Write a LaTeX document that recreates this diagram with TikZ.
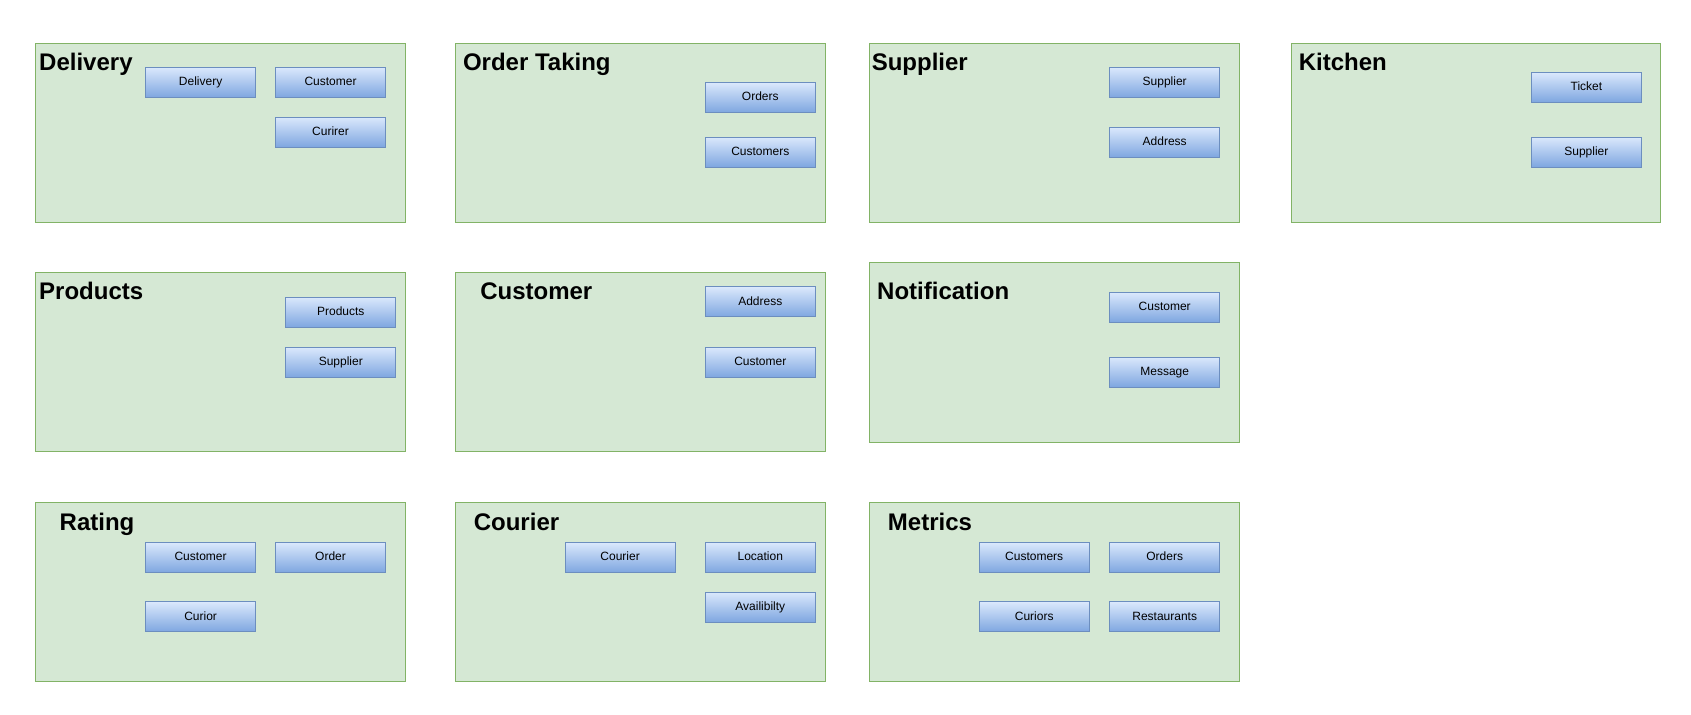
\documentclass[tikz,border=0pt]{standalone}
\usepackage{fontspec}
\setmainfont{Liberation Sans}
\usetikzlibrary{positioning}

\definecolor{ctxfill}{HTML}{D5E8D4}
\definecolor{ctxline}{HTML}{82B366}
\definecolor{entline}{HTML}{6C8EBF}
\definecolor{enttop}{HTML}{DAE8FC}
\definecolor{entbot}{HTML}{7EA6E0}

\tikzset{
  ctx/.style={draw=ctxline, fill=ctxfill, line width=0.5pt},
  ctxtitle/.style={anchor=base west, inner sep=0pt, font=\fontsize{12}{14}\selectfont\bfseries},
  entity/.style={draw=entline, line width=0.5pt, top color=enttop, bottom color=entbot,
    minimum width=55pt, minimum height=15pt, inner sep=0pt, text height=4.4pt, text depth=1.2pt,
    font=\fontsize{6}{7}\selectfont}
}

\begin{document}
\begin{tikzpicture}[x=0.5392pt, y=-0.5392pt]
    \useasboundingbox (0,0) rectangle (1568,663);

    % bounded contexts, first row
    \draw[ctx] (33,40) rectangle (376,206);
    \draw[ctx] (422,40) rectangle (765,206);
    \draw[ctx] (806,40) rectangle (1149,206);
    \draw[ctx] (1198,40) rectangle (1540,206);

    % second row
    \draw[ctx] (33,253) rectangle (376,419);
    \draw[ctx] (422,253) rectangle (765,419);
    \draw[ctx] (806,243) rectangle (1149,410);

    % third row
    \draw[ctx] (33,466) rectangle (376,632);
    \draw[ctx] (422,466) rectangle (765,632);
    \draw[ctx] (806,466) rectangle (1149,632);

    % titles
    \node[ctxtitle] (tDelivery) at (36,65) {Delivery};
    \node[ctxtitle] (tOrder) at (429,65) {Order Taking};
    \node[ctxtitle] (tSupplier) at (808,65) {Supplier};
    \node[ctxtitle] (tKitchen) at (1204,65) {Kitchen};
    \node[ctxtitle] (tProducts) at (36,278) {Products};
    \node[ctxtitle] (tCustomer) at (445,278) {Customer};
    \node[ctxtitle] (tNotify) at (813,278) {Notification};
    \node[ctxtitle] (tRating) at (55,492) {Rating};
    \node[ctxtitle] (tCourier) at (439,492) {Courier};
    \node[ctxtitle] (tMetrics) at (823,492) {Metrics};

    % Delivery
    \node[entity] (delDelivery) at (186,76.5) {Delivery};
    \node[entity] (delCustomer) at (306.5,76.5) {Customer};
    \node[entity] (delCurirer) at (306.5,122.5) {Curirer};

    % Order Taking
    \node[entity] (ordOrders) at (705,90.5) {Orders};
    \node[entity] (ordCustomers) at (705,141) {Customers};

    % Supplier
    \node[entity] (supSupplier) at (1080,76.5) {Supplier};
    \node[entity] (supAddress) at (1080,132) {Address};

    % Kitchen
    \node[entity] (kitTicket) at (1471,81) {Ticket};
    \node[entity] (kitSupplier) at (1471,141) {Supplier};

    % Products
    \node[entity] (proProducts) at (316,289.5) {Products};
    \node[entity] (proSupplier) at (316,336) {Supplier};

    % Customer
    \node[entity] (cusAddress) at (705,280) {Address};
    \node[entity] (cusCustomer) at (705,336) {Customer};

    % Notification
    \node[entity] (notCustomer) at (1080,285) {Customer};
    \node[entity] (notMessage) at (1080,345) {Message};

    % Rating
    \node[entity] (ratCustomer) at (186,517) {Customer};
    \node[entity] (ratOrder) at (306.5,517) {Order};
    \node[entity] (ratCurior) at (186,572) {Curior};

    % Courier
    \node[entity] (couCourier) at (575,517) {Courier};
    \node[entity] (couLocation) at (705,517) {Location};
    \node[entity] (couAvail) at (705,563) {Availibilty};

    % Metrics
    \node[entity] (metCustomers) at (959,517) {Customers};
    \node[entity] (metOrders) at (1080,517) {Orders};
    \node[entity] (metCuriors) at (959,572) {Curiors};
    \node[entity] (metRestaurants) at (1080,572) {Restaurants};
\end{tikzpicture}
\end{document}
